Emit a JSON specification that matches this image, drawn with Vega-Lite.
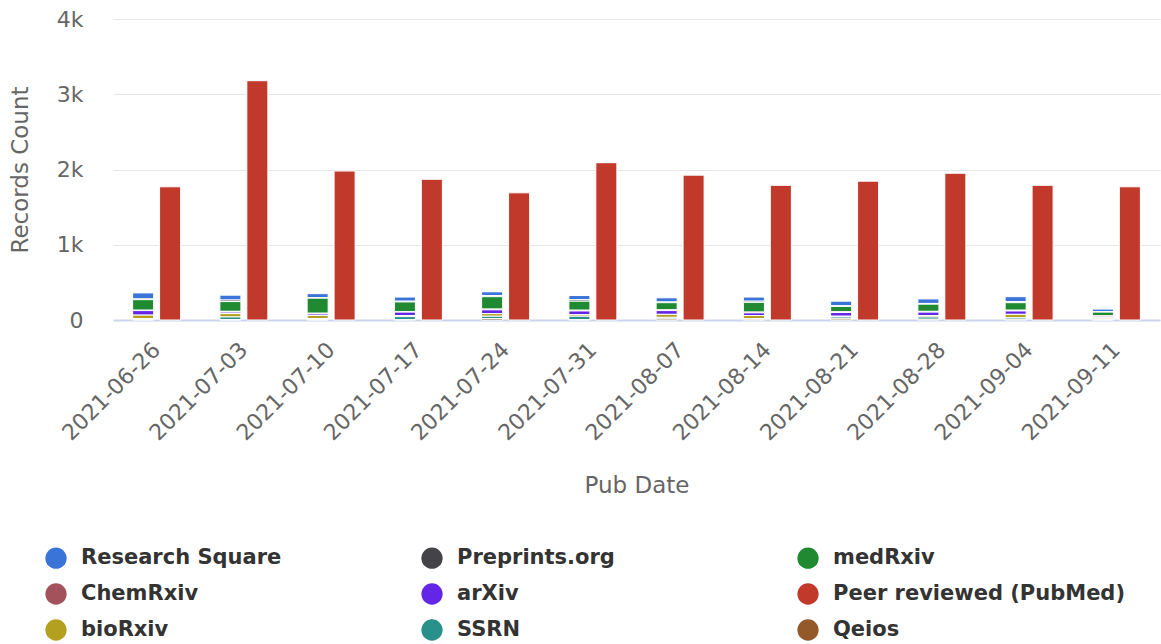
{
  "$schema": "https://vega.github.io/schema/vega-lite/v6.json",
  "autosize": {"type": "none"},
  "width": 1047,
  "height": 301,
  "padding": {"left": 113, "top": 19, "right": 1, "bottom": 324},
  "background": "#ffffff",
  "config": {
    "view": {"stroke": null},
    "font": "DejaVu Sans"
  },
  "data": {"values": [
    {"date":"2021-06-26","type":"Preprint","source":"Research Square","count":80},
    {"date":"2021-06-26","type":"Preprint","source":"Preprints.org","count":10},
    {"date":"2021-06-26","type":"Preprint","source":"medRxiv","count":140},
    {"date":"2021-06-26","type":"Preprint","source":"ChemRxiv","count":5},
    {"date":"2021-06-26","type":"Preprint","source":"arXiv","count":60},
    {"date":"2021-06-26","type":"Peer","source":"Peer reviewed (PubMed)","count":1770},
    {"date":"2021-06-26","type":"Preprint","source":"bioRxiv","count":45},
    {"date":"2021-06-26","type":"Preprint","source":"SSRN","count":15},
    {"date":"2021-06-26","type":"Preprint","source":"Qeios","count":5},

    {"date":"2021-07-03","type":"Preprint","source":"Research Square","count":65},
    {"date":"2021-07-03","type":"Preprint","source":"Preprints.org","count":20},
    {"date":"2021-07-03","type":"Preprint","source":"medRxiv","count":130},
    {"date":"2021-07-03","type":"Preprint","source":"ChemRxiv","count":10},
    {"date":"2021-07-03","type":"Preprint","source":"arXiv","count":20},
    {"date":"2021-07-03","type":"Peer","source":"Peer reviewed (PubMed)","count":3180},
    {"date":"2021-07-03","type":"Preprint","source":"bioRxiv","count":45},
    {"date":"2021-07-03","type":"Preprint","source":"SSRN","count":35},
    {"date":"2021-07-03","type":"Preprint","source":"Qeios","count":5},

    {"date":"2021-07-10","type":"Preprint","source":"Research Square","count":55},
    {"date":"2021-07-10","type":"Preprint","source":"Preprints.org","count":5},
    {"date":"2021-07-10","type":"Preprint","source":"medRxiv","count":200},
    {"date":"2021-07-10","type":"Preprint","source":"ChemRxiv","count":10},
    {"date":"2021-07-10","type":"Preprint","source":"arXiv","count":20},
    {"date":"2021-07-10","type":"Peer","source":"Peer reviewed (PubMed)","count":1980},
    {"date":"2021-07-10","type":"Preprint","source":"bioRxiv","count":40},
    {"date":"2021-07-10","type":"Preprint","source":"SSRN","count":15},
    {"date":"2021-07-10","type":"Preprint","source":"Qeios","count":5},

    {"date":"2021-07-17","type":"Preprint","source":"Research Square","count":55},
    {"date":"2021-07-17","type":"Preprint","source":"Preprints.org","count":10},
    {"date":"2021-07-17","type":"Preprint","source":"medRxiv","count":130},
    {"date":"2021-07-17","type":"Preprint","source":"ChemRxiv","count":5},
    {"date":"2021-07-17","type":"Preprint","source":"arXiv","count":45},
    {"date":"2021-07-17","type":"Peer","source":"Peer reviewed (PubMed)","count":1870},
    {"date":"2021-07-17","type":"Preprint","source":"bioRxiv","count":15},
    {"date":"2021-07-17","type":"Preprint","source":"SSRN","count":40},
    {"date":"2021-07-17","type":"Preprint","source":"Qeios","count":5},

    {"date":"2021-07-24","type":"Preprint","source":"Research Square","count":50},
    {"date":"2021-07-24","type":"Preprint","source":"Preprints.org","count":15},
    {"date":"2021-07-24","type":"Preprint","source":"medRxiv","count":165},
    {"date":"2021-07-24","type":"Preprint","source":"ChemRxiv","count":10},
    {"date":"2021-07-24","type":"Preprint","source":"arXiv","count":50},
    {"date":"2021-07-24","type":"Peer","source":"Peer reviewed (PubMed)","count":1690},
    {"date":"2021-07-24","type":"Preprint","source":"bioRxiv","count":35},
    {"date":"2021-07-24","type":"Preprint","source":"SSRN","count":30},
    {"date":"2021-07-24","type":"Preprint","source":"Qeios","count":20},

    {"date":"2021-07-31","type":"Preprint","source":"Research Square","count":55},
    {"date":"2021-07-31","type":"Preprint","source":"Preprints.org","count":20},
    {"date":"2021-07-31","type":"Preprint","source":"medRxiv","count":120},
    {"date":"2021-07-31","type":"Preprint","source":"ChemRxiv","count":10},
    {"date":"2021-07-31","type":"Preprint","source":"arXiv","count":50},
    {"date":"2021-07-31","type":"Peer","source":"Peer reviewed (PubMed)","count":2090},
    {"date":"2021-07-31","type":"Preprint","source":"bioRxiv","count":20},
    {"date":"2021-07-31","type":"Preprint","source":"SSRN","count":45},
    {"date":"2021-07-31","type":"Preprint","source":"Qeios","count":5},

    {"date":"2021-08-07","type":"Preprint","source":"Research Square","count":55},
    {"date":"2021-08-07","type":"Preprint","source":"Preprints.org","count":10},
    {"date":"2021-08-07","type":"Preprint","source":"medRxiv","count":95},
    {"date":"2021-08-07","type":"Preprint","source":"ChemRxiv","count":10},
    {"date":"2021-08-07","type":"Preprint","source":"arXiv","count":50},
    {"date":"2021-08-07","type":"Peer","source":"Peer reviewed (PubMed)","count":1925},
    {"date":"2021-08-07","type":"Preprint","source":"bioRxiv","count":40},
    {"date":"2021-08-07","type":"Preprint","source":"SSRN","count":20},
    {"date":"2021-08-07","type":"Preprint","source":"Qeios","count":15},

    {"date":"2021-08-14","type":"Preprint","source":"Research Square","count":55},
    {"date":"2021-08-14","type":"Preprint","source":"Preprints.org","count":15},
    {"date":"2021-08-14","type":"Preprint","source":"medRxiv","count":130},
    {"date":"2021-08-14","type":"Preprint","source":"ChemRxiv","count":10},
    {"date":"2021-08-14","type":"Preprint","source":"arXiv","count":35},
    {"date":"2021-08-14","type":"Peer","source":"Peer reviewed (PubMed)","count":1790},
    {"date":"2021-08-14","type":"Preprint","source":"bioRxiv","count":40},
    {"date":"2021-08-14","type":"Preprint","source":"SSRN","count":10},
    {"date":"2021-08-14","type":"Preprint","source":"Qeios","count":10},

    {"date":"2021-08-21","type":"Preprint","source":"Research Square","count":60},
    {"date":"2021-08-21","type":"Preprint","source":"Preprints.org","count":10},
    {"date":"2021-08-21","type":"Preprint","source":"medRxiv","count":70},
    {"date":"2021-08-21","type":"Preprint","source":"ChemRxiv","count":10},
    {"date":"2021-08-21","type":"Preprint","source":"arXiv","count":50},
    {"date":"2021-08-21","type":"Peer","source":"Peer reviewed (PubMed)","count":1845},
    {"date":"2021-08-21","type":"Preprint","source":"bioRxiv","count":10},
    {"date":"2021-08-21","type":"Preprint","source":"SSRN","count":25},
    {"date":"2021-08-21","type":"Preprint","source":"Qeios","count":15},

    {"date":"2021-08-28","type":"Preprint","source":"Research Square","count":60},
    {"date":"2021-08-28","type":"Preprint","source":"Preprints.org","count":10},
    {"date":"2021-08-28","type":"Preprint","source":"medRxiv","count":95},
    {"date":"2021-08-28","type":"Preprint","source":"ChemRxiv","count":10},
    {"date":"2021-08-28","type":"Preprint","source":"arXiv","count":45},
    {"date":"2021-08-28","type":"Peer","source":"Peer reviewed (PubMed)","count":1950},
    {"date":"2021-08-28","type":"Preprint","source":"bioRxiv","count":20},
    {"date":"2021-08-28","type":"Preprint","source":"SSRN","count":30},
    {"date":"2021-08-28","type":"Preprint","source":"Qeios","count":10},

    {"date":"2021-09-04","type":"Preprint","source":"Research Square","count":65},
    {"date":"2021-09-04","type":"Preprint","source":"Preprints.org","count":15},
    {"date":"2021-09-04","type":"Preprint","source":"medRxiv","count":100},
    {"date":"2021-09-04","type":"Preprint","source":"ChemRxiv","count":10},
    {"date":"2021-09-04","type":"Preprint","source":"arXiv","count":45},
    {"date":"2021-09-04","type":"Peer","source":"Peer reviewed (PubMed)","count":1790},
    {"date":"2021-09-04","type":"Preprint","source":"bioRxiv","count":45},
    {"date":"2021-09-04","type":"Preprint","source":"SSRN","count":20},
    {"date":"2021-09-04","type":"Preprint","source":"Qeios","count":10},

    {"date":"2021-09-11","type":"Preprint","source":"Research Square","count":35},
    {"date":"2021-09-11","type":"Preprint","source":"Preprints.org","count":5},
    {"date":"2021-09-11","type":"Preprint","source":"medRxiv","count":50},
    {"date":"2021-09-11","type":"Preprint","source":"ChemRxiv","count":5},
    {"date":"2021-09-11","type":"Preprint","source":"arXiv","count":15},
    {"date":"2021-09-11","type":"Peer","source":"Peer reviewed (PubMed)","count":1770},
    {"date":"2021-09-11","type":"Preprint","source":"bioRxiv","count":20},
    {"date":"2021-09-11","type":"Preprint","source":"SSRN","count":10},
    {"date":"2021-09-11","type":"Preprint","source":"Qeios","count":5}
  ]},
  "transform": [
    {"calculate": "indexof(['Research Square', 'Preprints.org', 'medRxiv', 'ChemRxiv', 'arXiv', 'Peer reviewed (PubMed)', 'bioRxiv', 'SSRN', 'Qeios'], datum.source)", "as": "stackRank"}
  ],
  "mark": {"type": "bar", "stroke": "#ffffff", "strokeWidth": 1},
  "encoding": {
    "x": {
      "field": "date", "type": "nominal", "sort": null,
      "scale": {"paddingInner": 0.45, "paddingOuter": 0.225},
      "axis": {
        "title": "Pub Date", "titleFont": "DejaVu Sans", "titleFontSize": 23, "titleFontWeight": "normal",
        "titleColor": "#666666", "titlePadding": 30,
        "labelAngle": -45, "labelAlign": "right", "labelBaseline": "middle",
        "labelFontSize": 22, "labelColor": "#666666", "labelPadding": 26,
        "ticks": false, "domainColor": "#ccd6eb", "domainWidth": 2, "grid": false
      }
    },
    "xOffset": {"field": "type", "type": "nominal", "sort": ["Preprint", "Peer"],
      "scale": {"paddingInner": 0.22, "paddingOuter": 0}},
    "y": {
      "field": "count", "type": "quantitative", "stack": "zero",
      "scale": {"domain": [0, 4000], "nice": false},
      "axis": {
        "title": "Records Count", "titleFontSize": 23, "titleFontWeight": "normal", "titleColor": "#666666",
        "titlePadding": 24,
        "values": [0, 1000, 2000, 3000, 4000],
        "labelExpr": "datum.value == 0 ? '0' : (datum.value / 1000) + 'k'",
        "labelFontSize": 22, "labelColor": "#666666", "labelPadding": 30,
        "ticks": false, "domain": false, "gridColor": "#e6e6e6", "gridWidth": 1
      }
    },
    "color": {
      "field": "source", "type": "nominal",
      "sort": ["Research Square", "Preprints.org", "medRxiv", "ChemRxiv", "arXiv", "Peer reviewed (PubMed)", "bioRxiv", "SSRN", "Qeios"],
      "scale": {
        "domain": ["Research Square", "Preprints.org", "medRxiv", "ChemRxiv", "arXiv", "Peer reviewed (PubMed)", "bioRxiv", "SSRN", "Qeios"],
        "range": ["#3b74d9", "#434348", "#1f8a32", "#a3525c", "#6326e6", "#c0392b", "#b3a01f", "#2a908a", "#94592a"]
      },
      "legend": {
        "title": null, "orient": "none", "legendX": -68, "legendY": 528,
        "direction": "horizontal",
        "columns": 3, "gridAlign": "all", "columnPadding": 47, "rowPadding": 14,
        "symbolType": "circle", "symbolSize": 452, "symbolStrokeWidth": 0, "symbolOpacity": 1,
        "labelFont": "DejaVu Sans", "labelFontSize": 21, "labelFontWeight": "bold", "labelColor": "#333333",
        "labelOffset": 14, "labelLimit": 400, "padding": 0
      }
    },
    "order": {"field": "stackRank", "type": "quantitative", "sort": "descending"}
  }
}
